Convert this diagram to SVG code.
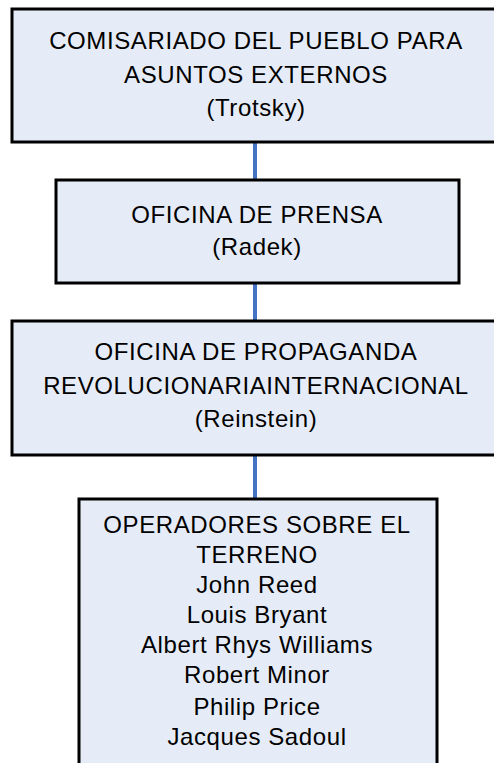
<svg xmlns="http://www.w3.org/2000/svg" width="494" height="763" viewBox="0 0 494 763">
<style>
.box{fill:#E6ECF7;stroke:#000;stroke-width:3}
.t{font-family:"Liberation Sans",Arial,sans-serif;font-size:24px;letter-spacing:0.6px;fill:#000;text-anchor:middle}
.c{stroke:#4472C4;stroke-width:4;fill:none}
</style>
<rect width="494" height="763" fill="#fff"/>
<g id="connectors">
<line class="c" x1="255" y1="142" x2="255" y2="179"/>
<line class="c" x1="255" y1="283" x2="255" y2="321"/>
<line class="c" x1="255" y1="455" x2="255" y2="499"/>
</g>
<g id="n1">
<rect class="box" x="12" y="9" width="490" height="133"/>
<text class="t" x="256" y="49">COMISARIADO DEL PUEBLO PARA</text>
<text class="t" x="256" y="83">ASUNTOS EXTERNOS</text>
<text class="t" x="256" y="116">(Trotsky)</text>
</g>
<g id="n2">
<rect class="box" x="56" y="180" width="403" height="103"/>
<text class="t" x="257" y="223">OFICINA DE PRENSA</text>
<text class="t" x="257" y="255">(Radek)</text>
</g>
<g id="n3">
<rect class="box" x="12" y="321" width="490" height="134"/>
<text class="t" x="256" y="360">OFICINA DE PROPAGANDA</text>
<text class="t" x="256" y="394">REVOLUCIONARIAINTERNACIONAL</text>
<text class="t" x="256" y="427">(Reinstein)</text>
</g>
<g id="n4">
<rect class="box" x="79" y="499" width="358" height="270"/>
<text class="t" x="257" y="533">OPERADORES SOBRE EL</text>
<text class="t" x="257" y="563">TERRENO</text>
<text class="t" x="257" y="593">John Reed</text>
<text class="t" x="257" y="623">Louis Bryant</text>
<text class="t" x="257" y="653">Albert Rhys Williams</text>
<text class="t" x="257" y="683">Robert Minor</text>
<text class="t" x="257" y="715">Philip Price</text>
<text class="t" x="257" y="745">Jacques Sadoul</text>
</g>
</svg>
